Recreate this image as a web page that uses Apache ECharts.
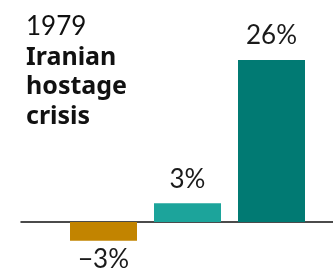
<!DOCTYPE html>
<html>
<head>
<meta charset="utf-8">
<script src="https://cdn.jsdelivr.net/npm/echarts@6/dist/echarts.min.js"></script>
<style>html,body{margin:0;padding:0;background:#fff;}#c{width:333px;height:270px;}</style>
</head>
<body>
<div id="c"></div>
<script>
const titleYear = '1979';
const titleEvent = ['Iranian', 'hostage', 'crisis'];
const categories = ['Period 1', 'Period 2', 'Period 3'];
const values = [-3, 3, 26];
const barColors = ['#C28400', '#1CA49B', '#017A73'];
const yMin = -5, yMax = 30;

const chart = echarts.init(document.getElementById('c'), null, {renderer: 'canvas'});
const fmt = v => (v < 0 ? '\u2212' + Math.abs(v) : v) + '%';
chart.setOption({
  animation: false,
  title: {
    left: 21, top: 6,
    text: '{a|' + titleYear + '}\n' + titleEvent.map(t => '{b|' + t + '}').join('\n'),
    textStyle: {
      rich: {
        a: {fontFamily: 'Lato', fontSize: 26, fontWeight: 'normal', color: '#111', lineHeight: 32},
        b: {fontFamily: 'Noto Sans', fontSize: 25, fontWeight: 'bold', color: '#111', lineHeight: 29.5}
      }
    }
  },
  grid: [
    {left: 61.5, right: 19.5, top: 35.08, height: 218.08},
    {left: 21, right: 0, top: 35.08, height: 218.08}
  ],
  xAxis: [
    {type: 'category', gridIndex: 0, data: categories, axisLine: {show: false}, axisTick: {show: false}, axisLabel: {show: false}},
    {type: 'value', gridIndex: 1, min: 0, max: 1, axisLine: {show: true, onZero: true, lineStyle: {color: '#111', width: 1.5}}, axisTick: {show: false}, axisLabel: {show: false}, splitLine: {show: false}}
  ],
  yAxis: [
    {type: 'value', gridIndex: 0, min: yMin, max: yMax, show: false, splitLine: {show: false}},
    {type: 'value', gridIndex: 1, min: yMin, max: yMax, show: false, splitLine: {show: false}}
  ],
  series: [{
    type: 'bar',
    xAxisIndex: 0, yAxisIndex: 0,
    barWidth: 67,
    z: 1,
    data: values.map((v, i) => ({
      value: v,
      itemStyle: {color: barColors[i]},
      label: {position: v < 0 ? 'bottom' : 'top', distance: v < 0 ? 6 : 11}
    })),
    label: {
      show: true,
      fontFamily: 'Lato', fontSize: 26, color: '#1a1a1a',
      formatter: p => fmt(p.value)
    }
  }, {
    type: 'line', xAxisIndex: 1, yAxisIndex: 1, data: [], silent: true
  }]
});
</script>
</body>
</html>
